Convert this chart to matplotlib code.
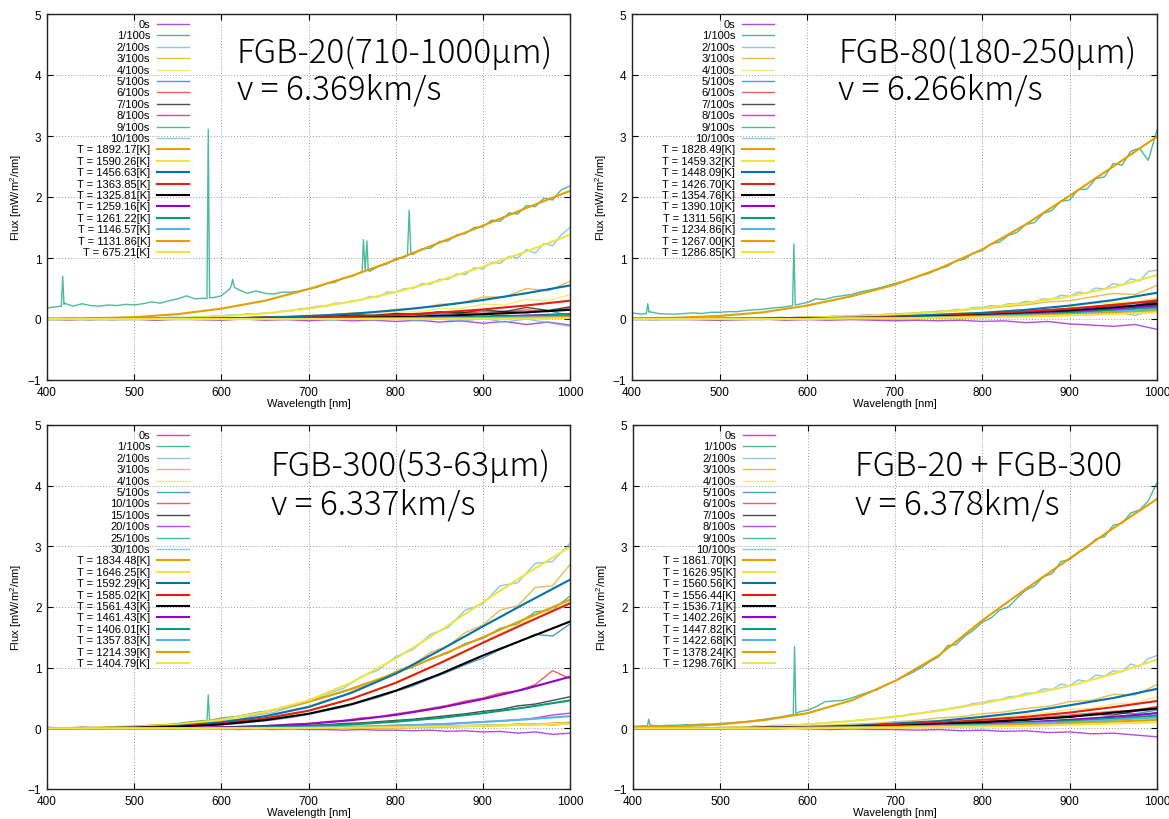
import numpy as np
import matplotlib
matplotlib.use("Agg")
import matplotlib.pyplot as plt

plt.rcParams['font.family'] = ['Liberation Sans', 'DejaVu Sans']
plt.rcParams['mathtext.fontset'] = 'custom'
plt.rcParams['mathtext.rm'] = 'Liberation Sans'
plt.rcParams['mathtext.it'] = 'Liberation Sans'

# ---------------- labels ----------------
LABELS_STD = ['0s', '1/100s', '2/100s', '3/100s', '4/100s', '5/100s',
              '6/100s', '7/100s', '8/100s', '9/100s', '10/100s']
LABELS_BL = ['0s', '1/100s', '2/100s', '3/100s', '4/100s', '5/100s',
             '10/100s', '15/100s', '20/100s', '25/100s', '30/100s']
TL_TEMPS = ['1892.17', '1590.26', '1456.63', '1363.85', '1325.81',
            '1259.16', '1261.22', '1146.57', '1131.86', '675.21']
TR_TEMPS = ['1828.49', '1459.32', '1448.09', '1426.70', '1354.76',
            '1390.10', '1311.56', '1234.86', '1267.00', '1286.85']
BL_TEMPS = ['1834.48', '1646.25', '1592.29', '1585.02', '1561.43',
            '1461.43', '1406.01', '1357.83', '1214.39', '1404.79']
BR_TEMPS = ['1861.70', '1626.95', '1560.56', '1556.44', '1536.71',
            '1402.26', '1447.82', '1422.68', '1378.24', '1298.76']
TITLES = [('FGB-20(710-1000μm)', 'v = 6.369km/s'),
          ('FGB-80(180-250μm)', 'v = 6.266km/s'),
          ('FGB-300(53-63μm)', 'v = 6.337km/s'),
          ('FGB-20 + FGB-300', 'v = 6.378km/s')]

X_TICKS = [400, 500, 600, 700, 800, 900, 1000]
Y_TICKS = [-1, 0, 1, 2, 3, 4, 5]

# Each series is sampled evenly over 400-1000 nm (61 pts = 10 nm, 31 = 20 nm,
# 25 = 25 nm, 13 = 50 nm).

# ================= TOP LEFT: FGB-20 =================
tl_d00 = [0.0, -0.01, 0.0, -0.01, 0.0, -0.02, 0.0, -0.01, -0.02, 0.0, -0.02, -0.01, -0.03,
          -0.01, -0.03, -0.02, -0.04, -0.02, -0.05, -0.03, -0.07, -0.04, -0.09, -0.05, -0.10]
tl_d01 = [0.18, 0.20, 0.26, 0.21, 0.25, 0.22, 0.21, 0.23, 0.22, 0.24, 0.23, 0.25, 0.28, 0.26,
          0.30, 0.33, 0.38, 0.33, 0.34, 0.35, 0.38, 0.50, 0.48, 0.42, 0.46, 0.42, 0.41, 0.44,
          0.44, 0.46, 0.49, 0.52, 0.58, 0.60, 0.67, 0.70, 0.77, 0.78, 0.86, 0.90, 0.99, 1.01,
          1.06, 1.15, 1.16, 1.27, 1.28, 1.38, 1.40, 1.50, 1.51, 1.62, 1.60, 1.74, 1.72, 1.86,
          1.84, 1.98, 1.95, 2.12, 2.18]
tl_spike_wl = [416.5, 418, 419.5, 583.5, 585, 586.5, 611.5, 613, 615,
               761.5, 763, 765, 767, 768.5, 813.5, 815.5, 817.5]
tl_spike_v = [0.21, 0.70, 0.24, 0.34, 3.11, 0.35, 0.55, 0.65, 0.52,
              0.76, 1.30, 0.80, 1.28, 0.80, 1.04, 1.78, 1.06]
tl_d02 = [0.01, -0.01, 0.00, 0.01, 0.00, 0.01, 0.00, 0.01, 0.02, 0.01, 0.02, 0.01, 0.03, 0.02,
          0.03, 0.03, 0.02, 0.04, 0.03, 0.05, 0.05, 0.07, 0.06, 0.09, 0.08, 0.10, 0.10, 0.13,
          0.13, 0.17, 0.18, 0.21, 0.21, 0.26, 0.26, 0.30, 0.31, 0.37, 0.36, 0.44, 0.44, 0.50,
          0.50, 0.58, 0.57, 0.65, 0.65, 0.74, 0.73, 0.84, 0.82, 0.93, 0.91, 1.03, 1.00, 1.14,
          1.08, 1.24, 1.20, 1.38, 1.50]
tl_d03 = [0.01, 0.0, 0.01, 0.0, 0.01, 0.01, 0.02, 0.01, 0.02, 0.02, 0.04, 0.04, 0.06,
          0.07, 0.10, 0.11, 0.16, 0.17, 0.24, 0.26, 0.36, 0.36, 0.50, 0.46, 0.62]
tl_d04 = [0.0, 0.01, 0.0, 0.01, 0.0, 0.01, 0.01, 0.01, 0.02, 0.02, 0.03, 0.03, 0.04,
          0.05, 0.07, 0.08, 0.11, 0.12, 0.17, 0.17, 0.24, 0.23, 0.32, 0.30, 0.40]
tl_d05 = [0.0, 0.0, -0.01, 0.01, 0.0, 0.0, 0.01, 0.0, 0.01, 0.02, 0.01, 0.02, 0.03,
          0.04, 0.04, 0.06, 0.06, 0.08, 0.07, 0.10, 0.09, 0.13, 0.10, 0.14, 0.05]
tl_d06 = [0.0, 0.01, 0.0, 0.0, 0.01, 0.0, 0.01, 0.01, 0.02, 0.01, 0.03, 0.02, 0.04,
          0.04, 0.06, 0.05, 0.08, 0.07, 0.10, 0.09, 0.12, 0.11, 0.15, 0.12, 0.18]
tl_d07 = [0.0, 0.0, 0.01, 0.0, 0.01, 0.01, 0.0, 0.01, 0.02, 0.02, 0.03, 0.03, 0.05,
          0.04, 0.07, 0.06, 0.09, 0.08, 0.12, 0.10, 0.15, 0.12, 0.19, 0.14, 0.20]
tl_d08 = [0.0, -0.01, 0.0, 0.0, 0.01, 0.0, 0.0, 0.01, 0.0, 0.01, 0.01, 0.02, 0.01,
          0.02, 0.02, 0.03, 0.02, 0.04, 0.03, 0.05, 0.03, 0.06, 0.04, 0.07, 0.05]
tl_d09 = [0.01, 0.0, 0.0, 0.01, 0.0, 0.0, 0.01, 0.0, 0.01, 0.01, 0.0, 0.02, 0.01,
          0.02, 0.02, 0.03, 0.02, 0.03, 0.03, 0.04, 0.03, 0.05, 0.04, 0.06, 0.05]
tl_d10 = [0.0, 0.01, -0.01, 0.0, 0.0, -0.01, 0.0, 0.01, -0.01, 0.0, 0.0, -0.01, 0.01,
          -0.02, 0.0, -0.02, 0.01, -0.03, 0.0, -0.04, 0.01, -0.05, 0.0, -0.06, -0.12]
tl_f01 = [0.0, 0.01, 0.03, 0.08, 0.17, 0.30, 0.49, 0.71, 0.97, 1.25, 1.53, 1.82, 2.10]
tl_f02 = [0.0, 0.001, 0.005, 0.017, 0.043, 0.091, 0.170, 0.285, 0.439, 0.629, 0.856, 1.107, 1.38]
tl_f03 = [0.0, 0.0, 0.001, 0.004, 0.010, 0.023, 0.047, 0.086, 0.142, 0.217, 0.311, 0.423, 0.55]
tl_f04 = [0.0, 0.0, 0.0, 0.001, 0.003, 0.008, 0.019, 0.038, 0.065, 0.105, 0.157, 0.222, 0.30]
tl_f05 = [0.0, 0.0, 0.0, 0.0, 0.001, 0.004, 0.009, 0.018, 0.031, 0.051, 0.077, 0.110, 0.15]
tl_f06 = [0.0, 0.0, 0.0, 0.0, 0.0, 0.002, 0.004, 0.008, 0.015, 0.026, 0.039, 0.057, 0.08]
tl_f07 = [0.0, 0.0, 0.0, 0.0, 0.0, 0.002, 0.004, 0.007, 0.013, 0.022, 0.034, 0.050, 0.07]
tl_f08 = [0.0, 0.0, 0.0, 0.0, 0.0, 0.0, 0.001, 0.003, 0.006, 0.011, 0.018, 0.027, 0.04]
tl_f09 = [0.0, 0.0, 0.0, 0.0, 0.0, 0.0, 0.001, 0.002, 0.004, 0.008, 0.013, 0.020, 0.03]
tl_f10 = [0.0, 0.0, 0.0, 0.0, 0.0, 0.0, 0.0, 0.0, 0.0, 0.001, 0.003, 0.007, 0.015]

# ================= TOP RIGHT: FGB-80 =================
tr_d00 = [0.0, -0.01, 0.0, -0.01, -0.02, -0.01, 0.0, -0.02, -0.01, -0.02, -0.01, -0.02, -0.03,
          -0.02, -0.03, -0.02, -0.04, -0.03, -0.06, -0.04, -0.08, -0.10, -0.12, -0.09, -0.17]
tr_d01 = [0.10, 0.08, 0.12, 0.09, 0.08, 0.08, 0.09, 0.10, 0.09, 0.11, 0.11, 0.12, 0.12, 0.14,
          0.15, 0.16, 0.18, 0.19, 0.21, 0.24, 0.27, 0.33, 0.32, 0.36, 0.38, 0.40, 0.44, 0.47,
          0.50, 0.54, 0.58, 0.62, 0.66, 0.71, 0.75, 0.82, 0.86, 0.95, 0.98, 1.08, 1.12, 1.23,
          1.26, 1.37, 1.42, 1.55, 1.58, 1.73, 1.78, 1.93, 1.95, 2.12, 2.13, 2.30, 2.33, 2.55,
          2.52, 2.75, 2.80, 2.60, 3.10]
tr_spike_wl = [416.5, 418, 419.5, 583.5, 585, 586.5]
tr_spike_v = [0.09, 0.25, 0.11, 0.22, 1.23, 0.23]
tr_d02 = [0.0, 0.01, 0.0, 0.01, 0.0, 0.01, 0.0, 0.01, 0.01, 0.0, 0.01, 0.02, 0.01, 0.02,
          0.01, 0.02, 0.02, 0.03, 0.02, 0.03, 0.03, 0.04, 0.03, 0.05, 0.04, 0.05, 0.06, 0.07,
          0.06, 0.08, 0.08, 0.09, 0.09, 0.11, 0.11, 0.13, 0.13, 0.16, 0.15, 0.19, 0.19, 0.22,
          0.21, 0.25, 0.25, 0.29, 0.28, 0.33, 0.32, 0.39, 0.37, 0.44, 0.42, 0.51, 0.49, 0.58,
          0.55, 0.66, 0.62, 0.78, 0.80]
tr_d03 = [0.0, 0.01, 0.0, 0.01, 0.01, 0.01, 0.02, 0.02, 0.03, 0.04, 0.05, 0.06, 0.08,
          0.10, 0.12, 0.14, 0.17, 0.20, 0.23, 0.28, 0.30, 0.36, 0.42, 0.40, 0.55]
tr_d04 = [0.0, 0.0, 0.01, 0.0, 0.01, 0.01, 0.01, 0.02, 0.02, 0.03, 0.03, 0.05, 0.05,
          0.07, 0.08, 0.10, 0.11, 0.14, 0.15, 0.19, 0.20, 0.25, 0.27, 0.28, 0.35]
tr_d05 = [0.0, 0.01, 0.0, 0.0, 0.01, 0.01, 0.01, 0.02, 0.02, 0.02, 0.03, 0.04, 0.04,
          0.06, 0.06, 0.08, 0.09, 0.11, 0.12, 0.15, 0.16, 0.19, 0.22, 0.23, 0.30]
tr_d06 = [0.01, 0.0, 0.01, 0.0, 0.01, 0.0, 0.01, 0.01, 0.02, 0.02, 0.03, 0.03, 0.05,
          0.05, 0.07, 0.08, 0.09, 0.11, 0.13, 0.15, 0.17, 0.20, 0.24, 0.26, 0.32]
tr_d07 = [0.0, 0.0, 0.0, 0.01, 0.0, 0.01, 0.01, 0.01, 0.02, 0.02, 0.03, 0.03, 0.04,
          0.05, 0.06, 0.07, 0.08, 0.10, 0.11, 0.13, 0.15, 0.18, 0.20, 0.22, 0.28]
tr_d08 = [0.0, 0.0, 0.01, 0.0, 0.0, 0.01, 0.01, 0.01, 0.01, 0.02, 0.02, 0.03, 0.03,
          0.04, 0.05, 0.06, 0.07, 0.08, 0.10, 0.11, 0.13, 0.16, 0.18, 0.20, 0.24]
tr_d09 = [0.0, 0.01, 0.0, 0.0, 0.01, 0.0, 0.01, 0.01, 0.01, 0.02, 0.02, 0.02, 0.03,
          0.04, 0.04, 0.05, 0.06, 0.07, 0.08, 0.09, 0.11, 0.12, 0.14, 0.10, 0.18]
tr_d10 = [0.0, 0.0, 0.0, 0.01, 0.0, 0.0, 0.01, 0.0, 0.01, 0.01, 0.02, 0.01, 0.02,
          0.03, 0.03, 0.04, 0.04, 0.05, 0.06, 0.07, 0.08, 0.10, 0.11, 0.06, 0.15]
tr_f01 = [0.01, 0.02, 0.05, 0.11, 0.22, 0.37, 0.56, 0.82, 1.14, 1.55, 2.02, 2.50, 2.99]
tr_f02 = [0.0, 0.0, 0.01, 0.01, 0.02, 0.04, 0.07, 0.11, 0.18, 0.26, 0.37, 0.52, 0.72]
tr_f03 = [0.0, 0.0, 0.0, 0.01, 0.01, 0.02, 0.04, 0.07, 0.10, 0.15, 0.22, 0.31, 0.43]
tr_f04 = [0.0, 0.0, 0.0, 0.0, 0.01, 0.02, 0.03, 0.05, 0.08, 0.12, 0.17, 0.23, 0.30]
tr_f05 = [0.0, 0.0, 0.0, 0.0, 0.01, 0.01, 0.02, 0.04, 0.06, 0.09, 0.13, 0.18, 0.25]
tr_f06 = [0.0, 0.0, 0.0, 0.0, 0.01, 0.01, 0.02, 0.03, 0.05, 0.08, 0.11, 0.16, 0.22]
tr_f07 = [0.0, 0.0, 0.0, 0.0, 0.0, 0.01, 0.02, 0.03, 0.05, 0.07, 0.10, 0.14, 0.19]
tr_f08 = [0.0, 0.0, 0.0, 0.0, 0.0, 0.01, 0.01, 0.02, 0.04, 0.06, 0.08, 0.12, 0.16]
tr_f09 = [0.0, 0.0, 0.0, 0.0, 0.0, 0.01, 0.01, 0.02, 0.03, 0.05, 0.07, 0.10, 0.13]
tr_f10 = [0.0, 0.0, 0.0, 0.0, 0.0, 0.01, 0.01, 0.02, 0.03, 0.04, 0.06, 0.08, 0.11]

# ================= BOTTOM LEFT: FGB-300 =================
bl_d00 = [0.0, -0.01, 0.0, -0.01, 0.0, -0.01, 0.0, -0.01, -0.01, 0.0, -0.01, -0.02, -0.01,
          -0.02, -0.01, -0.02, -0.02, -0.03, -0.02, -0.03, -0.03, -0.04, -0.03, -0.05, -0.04,
          -0.06, -0.05, -0.08, -0.06, -0.10, -0.08]
bl_d01 = [0.02, 0.0, 0.02, 0.01, 0.03, 0.03, 0.05, 0.06, 0.10, 0.13, 0.17, 0.20, 0.26, 0.30,
          0.37, 0.44, 0.52, 0.60, 0.71, 0.80, 0.92, 1.01, 1.15, 1.24, 1.40, 1.48, 1.65, 1.72,
          1.92, 1.95, 2.18]
bl_spike_wl = [583.5, 585, 586.5]
bl_spike_v = [0.12, 0.55, 0.13]
bl_d02 = [0.01, -0.01, 0.02, 0.0, 0.02, 0.01, 0.04, 0.03, 0.07, 0.08, 0.13, 0.15, 0.22, 0.26,
          0.35, 0.43, 0.56, 0.66, 0.85, 0.96, 1.18, 1.30, 1.55, 1.66, 1.95, 2.05, 2.35, 2.40,
          2.72, 2.75, 3.05]
bl_d03 = [0.0, 0.01, 0.0, 0.01, 0.0, 0.01, 0.02, 0.03, 0.05, 0.07, 0.10, 0.12, 0.18, 0.22,
          0.30, 0.36, 0.46, 0.54, 0.68, 0.78, 0.94, 1.05, 1.25, 1.36, 1.58, 1.70, 1.95, 2.02,
          2.32, 2.35, 2.70]
bl_d04 = [0.0, 0.0, 0.01, 0.0, 0.01, 0.01, 0.01, 0.02, 0.03, 0.05, 0.07, 0.10, 0.14, 0.17,
          0.23, 0.29, 0.36, 0.44, 0.54, 0.63, 0.74, 0.86, 1.00, 1.12, 1.26, 1.42, 1.56, 1.70,
          1.86, 1.95, 2.08]
bl_d05 = [0.0, 0.01, 0.0, 0.01, 0.0, 0.01, 0.01, 0.02, 0.03, 0.04, 0.06, 0.08, 0.11, 0.14,
          0.18, 0.23, 0.29, 0.35, 0.43, 0.51, 0.61, 0.70, 0.82, 0.93, 1.05, 1.16, 1.30, 1.42,
          1.55, 1.52, 1.72]
bl_d06 = [0.0, 0.01, 0.0, 0.0, 0.01, 0.0, 0.01, 0.01, 0.01, 0.02, 0.02, 0.03, 0.04, 0.05,
          0.07, 0.08, 0.11, 0.13, 0.17, 0.19, 0.24, 0.28, 0.33, 0.38, 0.45, 0.50, 0.58, 0.62,
          0.72, 0.95, 0.82]
bl_d07 = [0.0, 0.0, 0.01, 0.0, 0.01, 0.0, 0.01, 0.01, 0.01, 0.01, 0.02, 0.02, 0.03, 0.03,
          0.04, 0.05, 0.06, 0.08, 0.09, 0.11, 0.13, 0.15, 0.18, 0.21, 0.24, 0.28, 0.31, 0.37,
          0.40, 0.46, 0.52]
bl_d08 = [0.0, -0.01, 0.0, -0.01, 0.0, 0.0, 0.01, -0.01, 0.0, 0.01, 0.0, 0.01, 0.01, 0.0,
          0.02, 0.01, 0.02, 0.03, 0.03, 0.04, 0.05, 0.05, 0.07, 0.07, 0.09, 0.11, 0.12, 0.14,
          0.17, 0.22, 0.25]
bl_d09 = [0.0, 0.0, 0.01, 0.0, 0.0, 0.01, 0.0, 0.0, 0.01, 0.0, 0.01, 0.0, 0.01, 0.01,
          0.0, 0.01, 0.01, 0.02, 0.01, 0.02, 0.02, 0.03, 0.03, 0.04, 0.04, 0.05, 0.05, 0.07,
          0.06, 0.08, 0.10]
bl_d10 = [0.0, 0.01, 0.0, 0.0, 0.01, 0.0, 0.0, 0.01, 0.0, 0.01, 0.01, 0.0, 0.01, 0.01,
          0.02, 0.01, 0.02, 0.02, 0.02, 0.03, 0.03, 0.03, 0.04, 0.04, 0.05, 0.05, 0.06, 0.06,
          0.07, 0.05, 0.08]
bl_f01 = [0.002, 0.008, 0.027, 0.069, 0.146, 0.269, 0.438, 0.654, 0.910, 1.196, 1.502, 1.813, 2.12]
bl_f02 = [0.0, 0.005, 0.02, 0.06, 0.14, 0.27, 0.46, 0.76, 1.15, 1.60, 2.08, 2.55, 2.99]
bl_f03 = [0.0, 0.003, 0.012, 0.04, 0.10, 0.20, 0.35, 0.59, 0.90, 1.28, 1.68, 2.07, 2.45]
bl_f04 = [0.0, 0.002, 0.010, 0.033, 0.08, 0.165, 0.29, 0.49, 0.75, 1.07, 1.41, 1.74, 2.06]
bl_f05 = [0.0, 0.002, 0.008, 0.026, 0.065, 0.135, 0.24, 0.40, 0.62, 0.89, 1.20, 1.48, 1.76]
bl_f06 = [0.0, 0.0, 0.001, 0.005, 0.015, 0.037, 0.074, 0.135, 0.221, 0.337, 0.482, 0.654, 0.85]
bl_f07 = [0.0, 0.0, 0.0, 0.002, 0.006, 0.016, 0.034, 0.064, 0.109, 0.170, 0.250, 0.347, 0.46]
bl_f08 = [0.0, 0.0, 0.0, 0.0, 0.002, 0.006, 0.013, 0.025, 0.043, 0.069, 0.104, 0.148, 0.20]
bl_f09 = [0.0, 0.0, 0.0, 0.0, 0.0, 0.001, 0.003, 0.007, 0.014, 0.025, 0.041, 0.062, 0.09]
bl_f10 = [0.0, 0.0, 0.0, 0.0, 0.001, 0.003, 0.006, 0.011, 0.019, 0.030, 0.043, 0.060, 0.08]

# ================= BOTTOM RIGHT: FGB-20 + FGB-300 =================
br_d00 = [0.0, -0.01, 0.0, -0.01, 0.0, -0.01, -0.01, 0.0, -0.01, -0.02, -0.01, -0.02, -0.02,
          -0.03, -0.02, -0.04, -0.03, -0.05, -0.04, -0.07, -0.06, -0.09, -0.08, -0.11, -0.14]
br_d01 = [0.03, 0.04, 0.05, 0.04, 0.05, 0.05, 0.06, 0.06, 0.07, 0.07, 0.08, 0.09, 0.10, 0.11,
          0.13, 0.15, 0.17, 0.19, 0.22, 0.27, 0.30, 0.36, 0.44, 0.45, 0.46, 0.50, 0.55, 0.60,
          0.64, 0.72, 0.78, 0.85, 0.92, 1.00, 1.10, 1.18, 1.36, 1.38, 1.52, 1.62, 1.75, 1.82,
          1.95, 2.00, 2.15, 2.28, 2.35, 2.50, 2.55, 2.75, 2.78, 2.90, 2.98, 3.12, 3.16, 3.35,
          3.38, 3.55, 3.60, 3.75, 4.05]
br_spike_wl = [416.5, 418, 419.5, 583.5, 585, 586.5]
br_spike_v = [0.04, 0.15, 0.05, 0.22, 1.35, 0.24]
br_d02 = [0.0, 0.01, 0.0, 0.01, 0.01, 0.01, 0.0, 0.01, 0.02, 0.01, 0.02, 0.02, 0.03, 0.02,
          0.04, 0.03, 0.05, 0.05, 0.06, 0.06, 0.07, 0.08, 0.09, 0.10, 0.11, 0.12, 0.14, 0.15,
          0.16, 0.18, 0.20, 0.21, 0.24, 0.25, 0.28, 0.30, 0.32, 0.35, 0.37, 0.41, 0.42, 0.46,
          0.47, 0.52, 0.53, 0.58, 0.58, 0.65, 0.64, 0.73, 0.70, 0.80, 0.77, 0.88, 0.86, 0.95,
          0.93, 1.06, 1.02, 1.15, 1.20]
br_d03 = [0.0, 0.01, 0.0, 0.01, 0.01, 0.02, 0.02, 0.03, 0.04, 0.05, 0.07, 0.08, 0.11,
          0.13, 0.17, 0.19, 0.24, 0.27, 0.33, 0.36, 0.44, 0.46, 0.56, 0.55, 0.72]
br_d04 = [0.0, 0.0, 0.01, 0.01, 0.01, 0.01, 0.02, 0.02, 0.03, 0.04, 0.05, 0.06, 0.08,
          0.09, 0.12, 0.13, 0.17, 0.19, 0.23, 0.26, 0.31, 0.33, 0.40, 0.42, 0.52]
br_d05 = [0.0, 0.0, 0.01, 0.0, 0.01, 0.01, 0.01, 0.02, 0.02, 0.03, 0.04, 0.04, 0.06,
          0.06, 0.08, 0.09, 0.11, 0.13, 0.15, 0.17, 0.20, 0.21, 0.26, 0.24, 0.30]
br_d06 = [0.0, 0.01, 0.0, 0.01, 0.01, 0.01, 0.02, 0.02, 0.03, 0.03, 0.04, 0.05, 0.06,
          0.07, 0.09, 0.10, 0.12, 0.14, 0.16, 0.19, 0.22, 0.25, 0.28, 0.30, 0.36]
br_d07 = [0.0, 0.0, 0.01, 0.0, 0.01, 0.01, 0.01, 0.02, 0.02, 0.02, 0.03, 0.04, 0.05,
          0.06, 0.07, 0.08, 0.10, 0.12, 0.14, 0.17, 0.18, 0.23, 0.22, 0.28, 0.32]
br_d08 = [0.0, 0.0, 0.0, 0.01, 0.0, 0.01, 0.01, 0.01, 0.02, 0.02, 0.02, 0.03, 0.04,
          0.04, 0.05, 0.06, 0.07, 0.09, 0.10, 0.12, 0.14, 0.16, 0.19, 0.20, 0.26]
br_d09 = [0.0, 0.01, 0.0, 0.0, 0.01, 0.01, 0.01, 0.01, 0.02, 0.02, 0.02, 0.03, 0.03,
          0.04, 0.04, 0.05, 0.06, 0.07, 0.08, 0.10, 0.11, 0.13, 0.15, 0.17, 0.20]
br_d10 = [0.0, 0.0, 0.01, 0.0, 0.0, 0.01, 0.0, 0.01, 0.01, 0.01, 0.02, 0.02, 0.03,
          0.03, 0.04, 0.04, 0.05, 0.06, 0.07, 0.08, 0.09, 0.11, 0.12, 0.08, 0.16]
br_f01 = [0.02, 0.03, 0.065, 0.135, 0.25, 0.46, 0.78, 1.20, 1.78, 2.30, 2.80, 3.30, 3.78]
br_f02 = [0.0, 0.0, 0.01, 0.02, 0.065, 0.12, 0.19, 0.29, 0.41, 0.55, 0.70, 0.90, 1.13]
br_f03 = [0.0, 0.0, 0.0, 0.01, 0.02, 0.04, 0.08, 0.12, 0.19, 0.27, 0.38, 0.50, 0.65]
br_f04 = [0.0, 0.0, 0.0, 0.01, 0.02, 0.03, 0.06, 0.09, 0.14, 0.19, 0.26, 0.35, 0.45]
br_f05 = [0.0, 0.0, 0.0, 0.01, 0.01, 0.03, 0.04, 0.07, 0.10, 0.14, 0.19, 0.26, 0.33]
br_f06 = [0.0, 0.0, 0.0, 0.0, 0.01, 0.02, 0.03, 0.05, 0.07, 0.10, 0.14, 0.19, 0.25]
br_f07 = [0.0, 0.0, 0.0, 0.0, 0.01, 0.02, 0.03, 0.04, 0.06, 0.09, 0.12, 0.16, 0.21]
br_f08 = [0.0, 0.0, 0.0, 0.0, 0.01, 0.01, 0.02, 0.04, 0.05, 0.08, 0.10, 0.14, 0.18]
br_f09 = [0.0, 0.0, 0.0, 0.0, 0.01, 0.01, 0.02, 0.03, 0.04, 0.06, 0.08, 0.11, 0.14]
br_f10 = [0.0, 0.0, 0.0, 0.0, 0.0, 0.01, 0.01, 0.02, 0.03, 0.04, 0.06, 0.08, 0.10]

# ---------------- style ----------------
GNU_COLORS = ['#9400d3', '#009e73', '#56b4e9', '#e69f00',
              '#f0e442', '#0072b2', '#e51e10', '#000000']

PANELS = [
    dict(rect=[47, 15, 523, 366], labels=LABELS_STD, temps=TL_TEMPS,
         data=[tl_d00, tl_d01, tl_d02, tl_d03, tl_d04, tl_d05, tl_d06, tl_d07, tl_d08, tl_d09, tl_d10],
         fits=[tl_f01, tl_f02, tl_f03, tl_f04, tl_f05, tl_f06, tl_f07, tl_f08, tl_f09, tl_f10],
         spike=(tl_spike_wl, tl_spike_v), title=TITLES[0], tpos=(237, 63, 100)),
    dict(rect=[632, 15, 525, 366], labels=LABELS_STD, temps=TR_TEMPS,
         data=[tr_d00, tr_d01, tr_d02, tr_d03, tr_d04, tr_d05, tr_d06, tr_d07, tr_d08, tr_d09, tr_d10],
         fits=[tr_f01, tr_f02, tr_f03, tr_f04, tr_f05, tr_f06, tr_f07, tr_f08, tr_f09, tr_f10],
         spike=(tr_spike_wl, tr_spike_v), title=TITLES[1], tpos=(838, 63, 100)),
    dict(rect=[47, 426, 523, 364], labels=LABELS_BL, temps=BL_TEMPS,
         data=[bl_d00, bl_d01, bl_d02, bl_d03, bl_d04, bl_d05, bl_d06, bl_d07, bl_d08, bl_d09, bl_d10],
         fits=[bl_f01, bl_f02, bl_f03, bl_f04, bl_f05, bl_f06, bl_f07, bl_f08, bl_f09, bl_f10],
         spike=(bl_spike_wl, bl_spike_v), title=TITLES[2], tpos=(271, 476, 515)),
    dict(rect=[633, 426, 524, 364], labels=LABELS_STD, temps=BR_TEMPS,
         data=[br_d00, br_d01, br_d02, br_d03, br_d04, br_d05, br_d06, br_d07, br_d08, br_d09, br_d10],
         fits=[br_f01, br_f02, br_f03, br_f04, br_f05, br_f06, br_f07, br_f08, br_f09, br_f10],
         spike=(br_spike_wl, br_spike_v), title=TITLES[3], tpos=(855, 476, 515)),
]

W, H = 1169, 820
fig = plt.figure(figsize=(W / 100, H / 100), dpi=100)

DATA_LW, DATA_ALPHA = 1.0, 0.7
FIT_LW = 1.5

for p in PANELS:
    x0, y0, w, h = p['rect']
    ax = fig.add_axes([x0 / W, 1 - (y0 + h) / H, w / W, h / H])
    ax.set_xlim(400, 1000)
    ax.set_ylim(-1, 5)
    ax.set_xticks(X_TICKS)
    ax.set_yticks(Y_TICKS)
    ax.tick_params(direction='in', length=4, width=0.8, top=True, right=True,
                   labelsize=8.5, pad=4)
    ax.tick_params(axis='x', pad=4)
    ax.grid(True, color='#9a9a9a', linestyle=(0, (1, 2)), linewidth=0.7)
    ax.set_axisbelow(True)
    for s in ax.spines.values():
        s.set_linewidth(1.0)
        s.set_color('#222222')
    ax.set_xlabel('Wavelength [nm]', fontsize=8)
    ax.set_ylabel('Flux [mW/m$^2$/nm]', fontsize=8)
    ax.xaxis.set_label_coords(0.5, -18 / h)
    ax.yaxis.set_label_coords(-23 / w, 0.5)

    # data spectra
    for i, vals in enumerate(p['data']):
        wl = np.linspace(400, 1000, len(vals))
        v = np.asarray(vals, dtype=float)
        if i == 1:
            swl, sv = p['spike']
            wl = np.concatenate([wl, swl])
            v = np.concatenate([v, sv])
            order = np.argsort(wl)
            wl, v = wl[order], v[order]
        ax.plot(wl, v, color=GNU_COLORS[i % 8], lw=DATA_LW, alpha=DATA_ALPHA)
    # fits
    for j, vals in enumerate(p['fits']):
        wl = np.linspace(400, 1000, len(vals))
        ax.plot(wl, vals, color=GNU_COLORS[(11 + j) % 8], lw=FIT_LW)

    # key (gnuplot style, right-aligned labels)
    entries = [(lab, GNU_COLORS[i % 8], DATA_LW, DATA_ALPHA) for i, lab in enumerate(p['labels'])]
    entries += [('T = %s[K]' % t, GNU_COLORS[(11 + j) % 8], FIT_LW, 1.0)
                for j, t in enumerate(p['temps'])]
    for k, (lab, col, lw, al) in enumerate(entries):
        yy = 1 - (10 + 11.4 * k) / h
        ax.text(103 / w, yy, lab, ha='right', va='center', fontsize=8,
                transform=ax.transAxes)
        ax.plot([110 / w, 142 / w], [yy, yy], color=col, lw=lw, alpha=al,
                transform=ax.transAxes, clip_on=False)

    # big annotation
    tx, b1, b2 = p['tpos']
    t1, t2 = p['title']
    ax.text((tx - x0) / w, 1 - (b1 - y0) / h, t1, fontsize=24, weight='light',
            family=['Noto Sans CJK JP', 'DejaVu Sans'], ha='left', va='baseline',
            transform=ax.transAxes)
    ax.text((tx - x0) / w, 1 - (b2 - y0) / h, t2, fontsize=24, weight='light',
            family=['Noto Sans CJK JP', 'DejaVu Sans'], ha='left', va='baseline',
            transform=ax.transAxes)

fig.savefig('out.png', dpi=100)
